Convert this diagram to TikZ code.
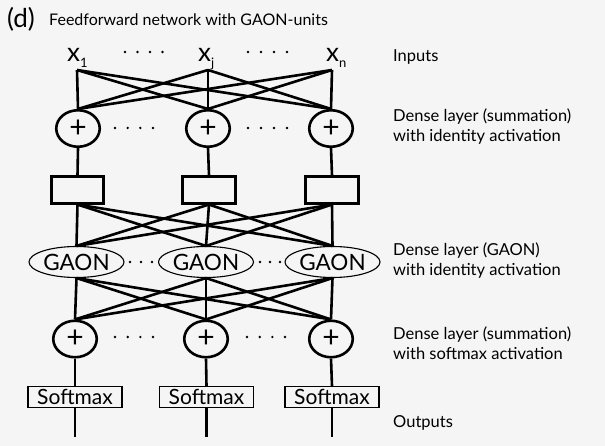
\documentclass[tikz,border=0pt]{standalone}
\usepackage{fontspec}
\setmainfont{Lato}
\usetikzlibrary{shapes.geometric}
\begin{document}
\begin{tikzpicture}[x=1pt,y=-1pt,
  conn/.style={line width=2.6pt},
  sumnode/.style={ellipse, draw, line width=2.6pt, minimum width=43.5pt, minimum height=36.5pt, inner sep=0pt, font=\fontsize{30}{30}\selectfont},
  actbox/.style={rectangle, draw, line width=2.6pt, minimum width=52.5pt, minimum height=26.5pt, inner sep=0pt},
  gaonnode/.style={ellipse, draw, line width=1.1pt, minimum width=95pt, minimum height=31pt, inner sep=0pt, font=\fontsize{22.5}{22.5}\selectfont},
  softbox/.style={rectangle, draw, line width=1.1pt, minimum width=94pt, minimum height=21pt, inner sep=0pt, font=\fontsize{21}{21}\selectfont},
  inlabel/.style={anchor=base west, font=\fontsize{26}{26}\selectfont, inner sep=0pt},
  sidelabel/.style={anchor=west, align=left, inner sep=0pt, font=\fontsize{16.5}{20}\selectfont},
  dotmark/.style={fill=black}
]
\fill[fill=black!4] (0,0) rectangle (605,446);
\useasboundingbox (0,0) rectangle (605,446);

% title
\node[anchor=west, inner sep=0pt, font=\fontsize{26}{26}\selectfont] (tag) at (7,19) {(d)};
\node[anchor=west, inner sep=0pt, font=\fontsize{16}{16}\selectfont] (title) at (49,20) {Feedforward network with GAON-units};

% inputs
\node[inlabel] (x1) at (67,62) {x\raisebox{-6pt}{\fontsize{13}{13}\selectfont 1}};
\node[inlabel] (xj) at (198,62) {x\raisebox{-6pt}{\fontsize{13}{13}\selectfont j}};
\node[inlabel] (xn) at (326,62) {x\raisebox{-6pt}{\fontsize{13}{13}\selectfont n}};
\coordinate (i1) at (77,70);
\coordinate (i2) at (208,70);
\coordinate (i3) at (332,70);

% summation layer 1
\node[sumnode] (s1) at (78,128.5) {+};
\node[sumnode] (s2) at (208,128.5) {+};
\node[sumnode] (s3) at (331,128.5) {+};

% boxes
\node[actbox] (b1) at (77.5,190) {};
\node[actbox] (b2) at (209,190) {};
\node[actbox] (b3) at (332,190) {};

% GAON
\node[gaonnode] (g1) at (76.5,262) {GAON};
\node[gaonnode] (g2) at (206,262) {GAON};
\node[gaonnode] (g3) at (332.5,262) {GAON};

% summation layer 2
\node[sumnode] (t1) at (75,339) {+};
\node[sumnode] (t2) at (206,339) {+};
\node[sumnode] (t3) at (331,339) {+};

% softmax
\node[softbox] (m1) at (75,397) {Softmax};
\node[softbox] (m2) at (206.5,397) {Softmax};
\node[softbox] (m3) at (332,397) {Softmax};
\coordinate (o1) at (75,437);
\coordinate (o2) at (206.5,437);
\coordinate (o3) at (332,437);

% connections
\foreach \a in {1,2,3}{
  \foreach \b in {1,2,3}{
    \draw[conn] (i\a) -- (s\b.north);
    \draw[conn] (b\a.south) -- (g\b.north);
    \draw[conn] (g\a.south) -- (t\b.north);
  }
  \draw[conn] (s\a.south) -- (b\a.north);
  \draw[conn] (t\a.south) -- (m\a.north);
  \draw[conn] (m\a.south) -- (o\a);
}

% dots
\foreach \x in {125,137.5,150,162.5,248,261,274,287}{\fill[dotmark] (\x,52) circle (1.3pt);}
\foreach \x in {115,127.7,140.3,153,248,261,274,287}{\fill[dotmark] (\x,128) circle (1.3pt);}
\foreach \x in {130,141,152,260,270,280}{\fill[dotmark] (\x,262) circle (1.3pt);}
\foreach \x in {115,127.7,140.3,153,247,259.7,272.3,285}{\fill[dotmark] (\x,337) circle (1.3pt);}

% side labels
\node[sidelabel] (linp) at (393,57) {Inputs};
\node[sidelabel] (lsum1) at (393,127) {Dense layer (summation)\\with identity activation};
\node[sidelabel] (lgaon) at (393,261) {Dense layer (GAON)\\with identity activation};
\node[sidelabel] (lsum2) at (393,343) {Dense layer (summation)\\with softmax activation};
\node[sidelabel] (lout) at (393,423) {Outputs};
\end{tikzpicture}
\end{document}
